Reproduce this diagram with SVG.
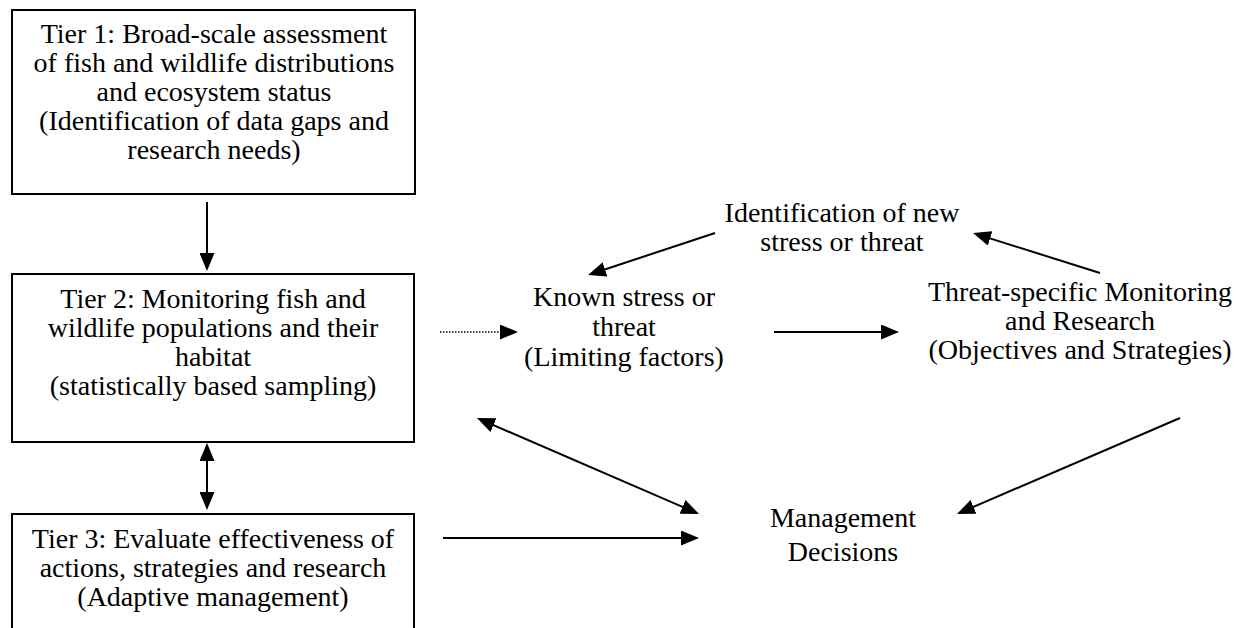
<svg xmlns="http://www.w3.org/2000/svg" width="1242" height="628" viewBox="0 0 1242 628">
<style>
  .box { fill: #fff; stroke: #000; stroke-width: 2; }
  .t { font-family: "Liberation Serif", "Times New Roman", serif; font-size: 28px; fill: #000; text-anchor: middle; }
  .c { stroke: #000; stroke-width: 2; fill: none; }
  .d { stroke: #000; stroke-width: 1.5; stroke-dasharray: 1.5 1.5; fill: none; }
</style>
<defs>
  <marker id="ah" markerUnits="userSpaceOnUse" markerWidth="18" markerHeight="15" refX="10" refY="7.5" orient="auto-start-reverse">
    <path d="M0,0 L18,7.5 L0,15 z" fill="#000"/>
  </marker>
</defs>
<rect width="1242" height="628" fill="#fff"/>

<g id="tier1">
  <rect class="box" x="12" y="10" width="403" height="184"/>
  <text class="t" x="214" y="43">Tier 1: Broad-scale assessment</text>
  <text class="t" x="214" y="72">of fish and wildlife distributions</text>
  <text class="t" x="214" y="101">and ecosystem status</text>
  <text class="t" x="214" y="130">(Identification of data gaps and</text>
  <text class="t" x="214" y="159">research needs)</text>
</g>

<g id="tier2">
  <rect class="box" x="12" y="274" width="402" height="168"/>
  <text class="t" x="213" y="308">Tier 2: Monitoring fish and</text>
  <text class="t" x="213" y="337">wildlife populations and their</text>
  <text class="t" x="213" y="366">habitat</text>
  <text class="t" x="213" y="395">(statistically based sampling)</text>
</g>

<g id="tier3">
  <rect class="box" x="12" y="514" width="402" height="130"/>
  <text class="t" x="213" y="548">Tier 3: Evaluate effectiveness of</text>
  <text class="t" x="213" y="577">actions, strategies and research</text>
  <text class="t" x="213" y="606">(Adaptive management)</text>
</g>

<g id="new-threat">
  <text class="t" x="842" y="222">Identification of new</text>
  <text class="t" x="842" y="251">stress or threat</text>
</g>

<g id="known-threat">
  <text class="t" x="624" y="306">Known stress or</text>
  <text class="t" x="624" y="336">threat</text>
  <text class="t" x="624" y="366">(Limiting factors)</text>
</g>

<g id="threat-monitoring">
  <text class="t" x="1080" y="301">Threat-specific Monitoring</text>
  <text class="t" x="1080" y="330">and Research</text>
  <text class="t" x="1080" y="359">(Objectives and Strategies)</text>
</g>

<g id="management">
  <text class="t" x="843" y="527">Management</text>
  <text class="t" x="843" y="561">Decisions</text>
</g>

<g id="connectors">
  <line class="c" x1="207" y1="202" x2="207" y2="263" marker-end="url(#ah)"/>
  <line class="c" x1="207" y1="451" x2="207" y2="502" marker-start="url(#ah)" marker-end="url(#ah)"/>
  <line class="d" x1="440" y1="332" x2="510" y2="332" marker-end="url(#ah)"/>
  <line class="c" x1="774" y1="332" x2="891" y2="332" marker-end="url(#ah)"/>
  <line class="c" x1="715" y1="233" x2="595.6" y2="272.5" marker-end="url(#ah)"/>
  <line class="c" x1="1100" y1="273" x2="980.6" y2="235.4" marker-end="url(#ah)"/>
  <line class="c" x1="484.3" y1="421.2" x2="691.7" y2="510.8" marker-start="url(#ah)" marker-end="url(#ah)"/>
  <line class="c" x1="443" y1="538" x2="691" y2="538" marker-end="url(#ah)"/>
  <line class="c" x1="1180" y1="418" x2="964.3" y2="510.8" marker-end="url(#ah)"/>
</g>
</svg>
